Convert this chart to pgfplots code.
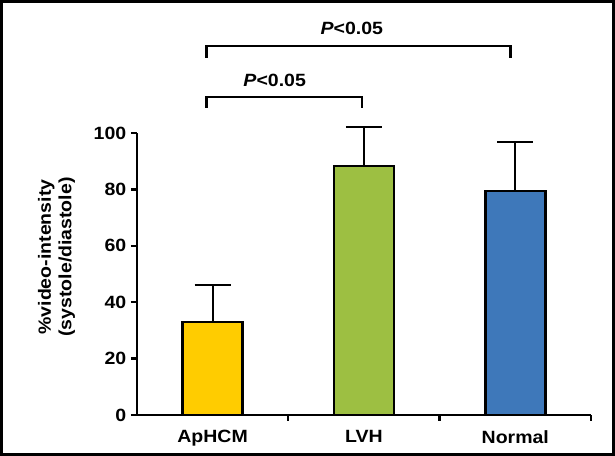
\documentclass[border=0pt]{standalone}
\usepackage{pgfplots}
\pgfplotsset{compat=1.18}
\usepackage{fontspec}
\setmainfont{Liberation Sans}[FakeStretch=1.1]
\definecolor{cyel}{HTML}{FFCC00}
\definecolor{cgrn}{HTML}{9DBF42}
\definecolor{cblu}{HTML}{3E78BA}
\begin{document}
\begin{tikzpicture}
\begin{axis}[
  scale only axis,
  width=340.5pt, height=211.5pt,
  xmin=-0.5, xmax=2.5,
  ymin=0, ymax=100,
  axis x line=bottom, axis y line=left,
  axis line style={-, line width=2pt},
  tick align=outside,
  major tick length=4.5pt,
  tick style={line width=1.8pt, black},
  ytick={0,20,40,60,80,100},
  xtick={0.5,1.5,2.5},
  xticklabels={\empty,\empty,\empty},
  extra x ticks={0,1,2},
  extra x tick labels={ApHCM,LVH,Normal},
  extra x tick style={major tick length=0pt, xticklabel style={yshift=-8pt}},
  font=\fontsize{13.3}{15.5}\selectfont\bfseries,
  ticklabel style={font=\fontsize{13.3}{15.5}\selectfont\bfseries},
  /pgf/number format/assume math mode=true,
  ylabel={\%video-intensity\\(systole/diastole)},
  ylabel style={at={(rel axis cs:-0.177,0.56)}, anchor=center, align=center, font=\fontsize{13.3}{15.5}\selectfont\bfseries},
  clip=false,
  ybar, bar width=45pt, bar shift=0pt,
  error bars/y dir=plus, error bars/y explicit,
  error bars/error bar style={line width=1.6pt, black},
  error bars/error mark options={line width=1.6pt, black, mark size=13.5pt, rotate=90},
]
\addplot[fill=cyel, draw=black, line width=1.8pt] coordinates {(0,33.0) +- (0,13.1)};
\addplot[fill=cgrn, draw=black, line width=1.8pt] coordinates {(1,88.3) +- (0,13.8)};
\addplot[fill=cblu, draw=black, line width=1.8pt] coordinates {(2,79.4) +- (0,17.4)};
\draw[line width=1.8pt, black] (axis cs:-0.04,126.6) -- (axis cs:-0.04,130.9) -- (axis cs:1.967,130.9) -- (axis cs:1.967,126.6);
\draw[line width=1.8pt, black] (axis cs:-0.04,109.0) -- (axis cs:-0.04,112.8) -- (axis cs:0.987,112.8) -- (axis cs:0.987,109.0);
\node[anchor=center, font=\fontsize{13.3}{15.5}\selectfont\bfseries] at (axis cs:0.92,137.2) {\textit{P}<0.05};
\node[anchor=center, font=\fontsize{13.3}{15.5}\selectfont\bfseries] at (axis cs:0.41,118.8) {\textit{P}<0.05};
\draw[line width=2.4pt, black] ([xshift=-101.5pt, yshift=-29.5pt]rel axis cs:0,0) rectangle ([xshift=16.8pt, yshift=98.5pt]rel axis cs:1,1);
\end{axis}
\end{tikzpicture}
\end{document}
